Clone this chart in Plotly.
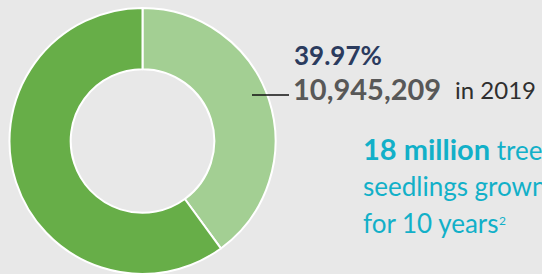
import plotly.graph_objects as go

labels = ["Trees seedlings (2019)", "Remaining"]
values = [39.97, 60.03]
colors = ["#a3cf93", "#67ae48"]

pct_text = "39.97%"
count_text = "10,945,209"
year_text = "in 2019"
note_lines = ["<b><span style='font-size:29px'>18 million</span></b> trees",
              "seedlings grown",
              "for 10 years"]
footnote = "2"

W, H = 542, 274
BG = "#e8e8e8"
TEAL = "#12b0c8"

fig = go.Figure(go.Pie(
    labels=labels, values=values, hole=0.54, sort=False, direction="clockwise",
    rotation=0, textinfo="none", hoverinfo="label+percent",
    marker=dict(colors=colors, line=dict(color="white", width=2)),
    domain=dict(x=[8 / W, 277 / W], y=[0, 266 / H]),
    showlegend=False,
))

def px(x):
    return x / W

def py(y):
    return 1 - y / H

annotations = [
    dict(x=px(292), y=py(55), text=f"<b>{pct_text}</b>", xanchor="left", yanchor="middle",
         font=dict(family="Lato", size=26, color="#2b3b5e")),
    dict(x=px(291), y=py(88), text=f"<b>{count_text}</b>", xanchor="left", yanchor="middle",
         font=dict(family="Lato", size=29, color="#585858")),
    dict(x=px(453), y=py(89), text=year_text, xanchor="left", yanchor="middle",
         font=dict(family="Lato", size=24, color="#2f2f2f")),
]
for i, line in enumerate(note_lines):
    annotations.append(dict(x=px(361), y=py(148 + 37.5 * i), text=line, xanchor="left", yanchor="middle",
                            font=dict(family="Lato", size=26, color=TEAL)))
annotations.append(dict(x=px(497), y=py(220), text=footnote, xanchor="left", yanchor="middle",
                        font=dict(family="Lato", size=12, color=TEAL)))
for a in annotations:
    a.update(xref="paper", yref="paper", showarrow=False)

fig.update_layout(
    width=W, height=H, margin=dict(l=0, r=0, t=0, b=0),
    paper_bgcolor=BG, plot_bgcolor=BG,
    annotations=annotations,
    shapes=[dict(type="line", xref="paper", yref="paper", x0=px(252), x1=px(289), y0=py(95), y1=py(95),
                 line=dict(color="#111111", width=1.5))],
)

fig.write_html("out.html", config={"displayModeBar": False},
               post_script="document.body.style.margin='0';document.body.style.background='#e8e8e8';")
